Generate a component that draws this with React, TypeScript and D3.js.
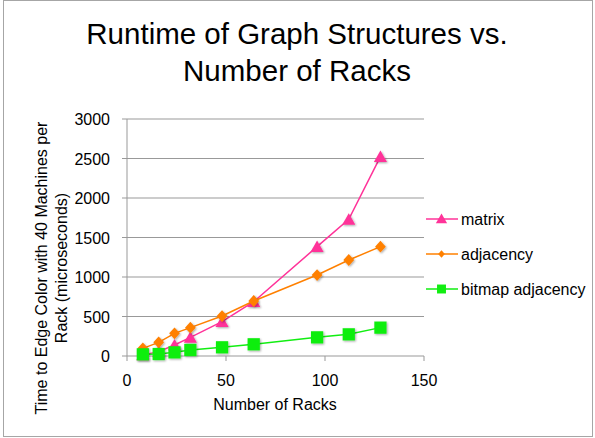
import React from "react";
import * as d3 from "d3";

const racks = [8, 16, 24, 32, 48, 64, 96, 112, 128];
const matrix = [13, 55, 139, 236, 435, 688, 1384, 1730, 2523];
const adjacency = [97, 173, 287, 359, 506, 696, 1025, 1215, 1384];
const bitmap = [21, 25, 46, 76, 110, 148, 236, 274, 359];
const xTicks = [0, 50, 100, 150];
const yTicks = [0, 500, 1000, 1500, 2000, 2500, 3000];
const seriesNames = ["matrix", "adjacency", "bitmap adjacency"];
const seriesColors = ["#FF3399", "#FF8000", "#11EE11"];

// wide diamond marker (rotated square, slightly taller than wide)
const wideDiamond: d3.SymbolType = {
  draw(ctx, size) {
    const r = Math.sqrt(size) / 2;
    ctx.moveTo(0, -r * 1.1);
    ctx.lineTo(r, 0);
    ctx.lineTo(0, r * 1.1);
    ctx.lineTo(-r, 0);
    ctx.closePath();
  },
};
const seriesShapes = [d3.symbolTriangle, wideDiamond, d3.symbolSquare];
const seriesSizes = [75, 115, 150];

const W = 595;
const H = 438;
const font = "Liberation Sans, Arial, sans-serif";

export default function App() {
  const x = d3.scaleLinear().domain([0, 150]).range([127, 424]);
  const y = d3.scaleLinear().domain([0, 3000]).range([356, 119]);
  const series = [matrix, adjacency, bitmap];
  const line = d3
    .line<[number, number]>()
    .x((d) => x(d[0]))
    .y((d) => y(d[1]));

  const marker = (i: number, cx: number, cy: number, key: string) => {
    const sym = d3.symbol().type(seriesShapes[i]).size(seriesSizes[i]);
    const dy = i === 0 ? 1.5 : 0;
    return (
      <path
        key={key}
        d={sym() || ""}
        transform={`translate(${cx},${cy + dy})`}
        fill={seriesColors[i]}
        filter="url(#soft)"
      />
    );
  };

  return (
    <svg
      width={W}
      height={H}
      style={{ position: "absolute", left: 0, top: 0, background: "#fff" }}
    >
      <defs>
        <filter id="soft" x="-50%" y="-50%" width="200%" height="200%">
          <feGaussianBlur in="SourceAlpha" stdDeviation="1" />
          <feOffset dx="0.5" dy="1" result="b" />
          <feComponentTransfer>
            <feFuncA type="linear" slope="0.35" />
          </feComponentTransfer>
          <feMerge>
            <feMergeNode />
            <feMergeNode in="SourceGraphic" />
          </feMerge>
        </filter>
      </defs>
      <rect x={3.5} y={0.5} width={589} height={436} fill="#fff" stroke="#a6a6a6" />

      <text textAnchor="middle" fontFamily={font} fontSize={29.5} fill="#000">
        <tspan x={297} y={44}>Runtime of Graph Structures vs.</tspan>
        <tspan x={297} y={81}>Number of Racks</tspan>
      </text>

      {/* gridlines */}
      {yTicks.map((t) => (
        <line
          key={"g" + t}
          x1={x(0)}
          x2={x(150)}
          y1={y(t)}
          y2={y(t)}
          stroke="#999"
          strokeWidth={1}
        />
      ))}
      {/* y axis */}
      <line x1={x(0)} x2={x(0)} y1={y(0)} y2={y(3000)} stroke="#999" />
      {yTicks.map((t) => (
        <g key={"y" + t}>
          <line x1={x(0) - 5} x2={x(0)} y1={y(t)} y2={y(t)} stroke="#999" />
          <text
            x={x(0) - 17}
            y={y(t) + 6}
            textAnchor="end"
            fontFamily={font}
            fontSize={16}
            fill="#000"
          >
            {t}
          </text>
        </g>
      ))}
      {/* x axis */}
      {xTicks.map((t) => (
        <g key={"x" + t}>
          <line x1={x(t)} x2={x(t)} y1={y(0)} y2={y(0) + 5} stroke="#999" />
          <text
            x={x(t)}
            y={y(0) + 30}
            textAnchor="middle"
            fontFamily={font}
            fontSize={16}
            fill="#000"
          >
            {t}
          </text>
        </g>
      ))}
      <text x={275} y={410} textAnchor="middle" fontFamily={font} fontSize={16} fill="#000">
        Number of Racks
      </text>
      <text
        transform="translate(47,268) rotate(-90)"
        textAnchor="middle"
        fontFamily={font}
        fontSize={16}
        fill="#000"
      >
        <tspan x={0} y={0}>Time to Edge Color with 40 Machines per</tspan>
        <tspan x={0} y={20}>Rack (microseconds)</tspan>
      </text>

      {/* series */}
      {series.map((vals, i) => (
        <g key={"s" + i}>
          <path
            d={line(racks.map((r, j) => [r, vals[j]] as [number, number])) || ""}
            fill="none"
            stroke={seriesColors[i]}
            strokeWidth={1.5}
          />
          {racks.map((r, j) => marker(i, x(r), y(vals[j]), `m${i}-${j}`))}
        </g>
      ))}

      {/* legend */}
      {seriesNames.map((name, i) => {
        const ly = 219 + i * 35;
        const small = [55, 45, 80][i];
        const sym = d3.symbol().type(seriesShapes[i]).size(small);
        return (
          <g key={"l" + i}>
            <line x1={426} x2={458} y1={ly} y2={ly} stroke={seriesColors[i]} strokeWidth={1.5} />
            <path
              d={sym() || ""}
              transform={`translate(441.5,${ly + (i === 0 ? 1 : 0)})`}
              fill={seriesColors[i]}
            />
            <text x={461} y={ly + 6} fontFamily={font} fontSize={16} fill="#000">
              {name}
            </text>
          </g>
        );
      })}
    </svg>
  );
}
